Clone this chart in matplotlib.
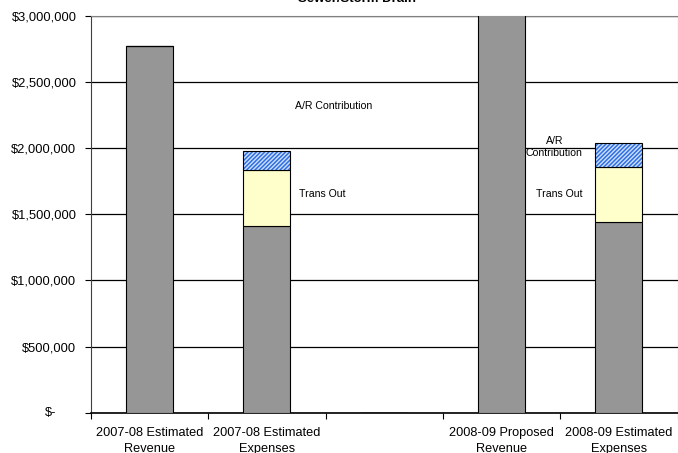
import matplotlib
matplotlib.use('Agg')
import matplotlib.pyplot as plt
from matplotlib.ticker import FuncFormatter, MultipleLocator
import numpy as np

plt.rcParams.update({
    'font.family': ['Liberation Sans', 'DejaVu Sans'],
    'font.size': 9.3,
    'hatch.linewidth': 1.1,
})

# ── Data ──────────────────────────────────────────────────────────
categories = ['2007-08 Estimated\nRevenue', '2007-08 Estimated\nExpenses', '',
              '2008-09 Proposed\nRevenue', '2008-09 Estimated\nExpenses']
base = [2770000, 1412000, 0, 3100000, 1438000]        # revenue / operating expenses
trans_out = [0, 419000, 0, 0, 415000]
ar_contrib = [0, 148000, 0, 0, 182000]

C_GRAY = '#969696'
C_YELLOW = '#FFFFCC'
C_HATCH = '#2F6FE0'

fig = plt.figure(figsize=(6.78, 4.53), dpi=100)
ax = fig.add_axes([91 / 678, 1 - 412.7 / 453, 1 - 91 / 678 - 0.5 / 678, (412.7 - 15.7) / 453])

x = np.arange(len(categories))
w = 0.40
base = np.array(base)
trans_out = np.array(trans_out)
ar_contrib = np.array(ar_contrib)

ax.bar(x, base, w, color=C_GRAY, edgecolor='black', linewidth=0.8, zorder=3)
ax.bar(x, trans_out, w, bottom=base, color=C_YELLOW, edgecolor='black', linewidth=0.8, zorder=3)
# hatched blue segment: pattern first, then a black outline on top
ax.bar(x, ar_contrib, w, bottom=base + trans_out, color='#CFE0FF', edgecolor=C_HATCH,
       hatch='////////', linewidth=0, zorder=3)
ax.bar(x, ar_contrib, w, bottom=base + trans_out, fill=False, edgecolor='black',
       linewidth=0.8, zorder=4)

ax.set_xlim(-0.5, len(categories) - 0.5)
ax.set_ylim(0, 3000000)
ax.yaxis.set_major_locator(MultipleLocator(500000))
ax.yaxis.set_major_formatter(FuncFormatter(lambda v, p: '' if v == 0 else '${:,.0f}'.format(v)))
ax.grid(axis='y', color='black', linewidth=0.9, zorder=0)

ax.set_xticks(x)
ax.set_xticklabels(categories, fontsize=9.2, linespacing=1.45)
ax.set_xticks(np.arange(-0.5, len(categories)), minor=True)
ax.tick_params(axis='x', which='major', length=0, pad=10)
ax.tick_params(axis='x', which='minor', length=4, width=0.8, direction='out')
ax.tick_params(axis='y', length=4, width=0.8, pad=6.5, direction='out')

for side in ['top', 'right']:
    ax.spines[side].set_color('#808080')
ax.spines['left'].set_color('#404040')
ax.spines['bottom'].set_linewidth(1.2)

# accounting-style zero label
ax.annotate('$-', xy=(0, 0), xycoords=('axes fraction', 'data'), xytext=(-25, 0),
            textcoords='offset points', ha='right', va='center', fontsize=9.3)

# segment notes
note_fs = 7.6
ax.text(1.57, 2316000, 'A/R Contribution', ha='center', va='center', fontsize=note_fs)
ax.text(1.47, 1652000, 'Trans Out', ha='center', va='center', fontsize=note_fs)
ax.text(3.45, 2007000, 'A/R\nContribution', ha='center', va='center', fontsize=note_fs,
        linespacing=1.3)
ax.text(3.49, 1652000, 'Trans Out', ha='center', va='center', fontsize=note_fs)

fig.text(357 / 678, 1 - 2.5 / 453, 'Sewer/Storm Drain', ha='center', va='baseline',
         fontsize=9.5, fontweight='bold')

fig.savefig('out.png', dpi=100)
